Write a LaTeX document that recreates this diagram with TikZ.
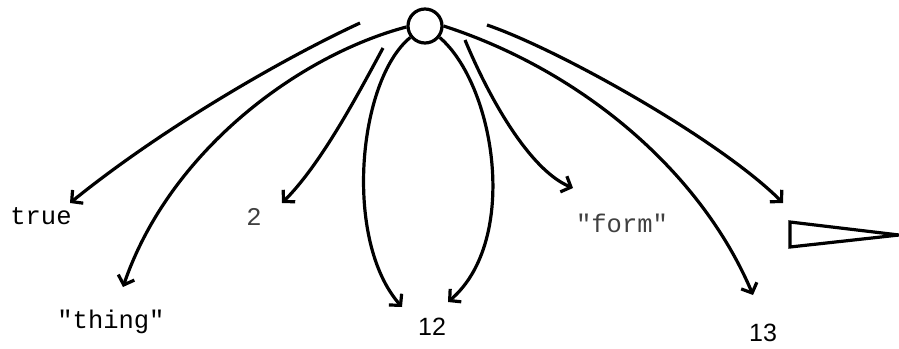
\documentclass[tikz,border=0pt]{standalone}
\usepackage{fontspec}
\newfontfamily\monof{Liberation Mono}
\newfontfamily\sansf{Liberation Sans}
\usetikzlibrary{arrows.meta}
\begin{document}
\begin{tikzpicture}[x=1pt,y=-1pt,
  conn/.style={line width=3.2pt,-{Straight Barb[length=8pt,width=17pt,line width=3.2pt]}},
  lbl/.style={inner sep=0pt,font=\monof\fontsize{25.5}{27}\selectfont},
  numlbl/.style={inner sep=0pt,font=\sansf\fontsize{25}{27}\selectfont},
  rootnode/.style={circle,draw,line width=3.2pt,minimum size=34pt,inner sep=0pt}]
\useasboundingbox (0,0) rectangle (899,348);
\node[rootnode] (root) at (425,26) {};
% labels
\node[lbl] (ltrue) at (41,216) {true};
\node[lbl] (lthing) at (111,322) {"thing"};
\node[lbl,text=black!75] (ltwo) at (254,217) {2};
\node[numlbl] (ltwelve) at (432,327) {12};
\node[lbl,text=black!75] (lform) at (622,223) {"form"};
\node[numlbl] (lthirteen) at (763,333) {13};
% free ends
\coordinate (s1) at (360,23);
\coordinate (s2) at (383,48);
\coordinate (s3) at (465,40);
\coordinate (s4) at (487,25);
\coordinate (e1) at (70,203);
\coordinate (e2) at (123,287);
\coordinate (e3) at (282,203);
\coordinate (e4) at (402,307);
\coordinate (e5) at (448,302);
\coordinate (e6) at (573,188);
\coordinate (e7) at (783,203);
\coordinate (e8) at (753,295);
% connectors
\draw[conn] (s1) .. controls (280,60) and (160,130) .. (e1);
\draw[conn] (root.183) .. controls (300,55) and (170,150) .. (e2);
\draw[conn] (s2) .. controls (355,100) and (320,165) .. (e3);
\draw[conn] (root.218) .. controls (358,80) and (343,240) .. (e4);
\draw[conn] (root.322) .. controls (495,85) and (520,240) .. (e5);
\draw[conn] (s3) .. controls (490,100) and (530,170) .. (e6);
\draw[conn] (s4) .. controls (560,50) and (720,140) .. (e7);
\draw[conn] (root.0) .. controls (580,70) and (700,170) .. (e8);
% triangle
\draw[line width=3.2pt,line join=miter] (790,222) -- (790,247) -- (899,235) -- cycle;
\end{tikzpicture}
\end{document}
